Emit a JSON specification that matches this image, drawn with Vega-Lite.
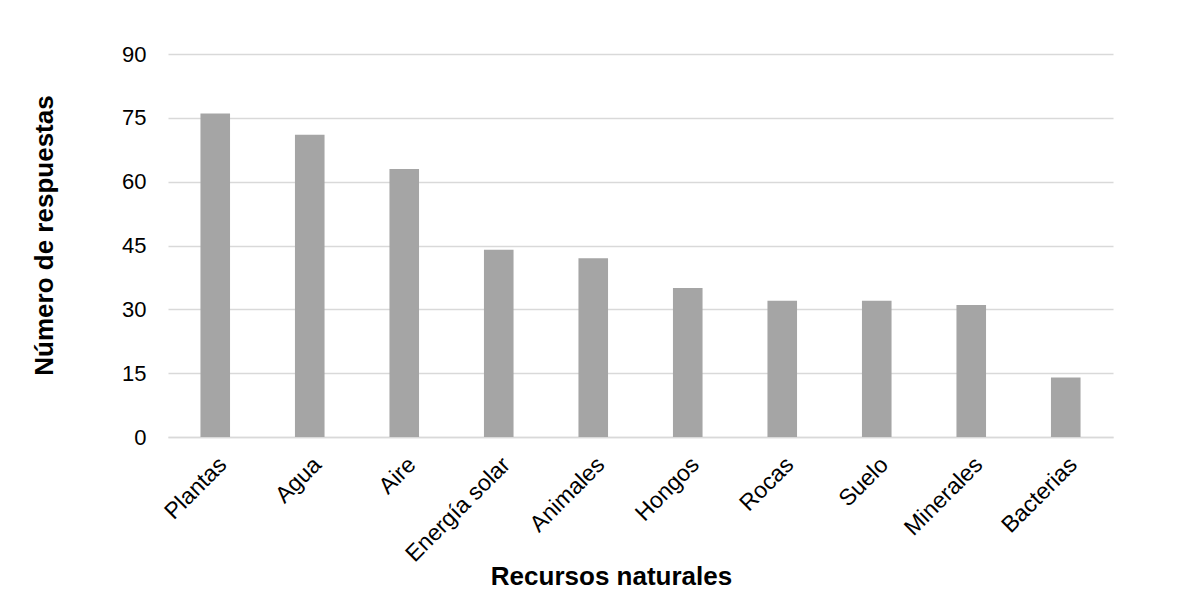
{
  "$schema": "https://vega.github.io/schema/vega-lite/v6.json",
  "autosize": {"type": "none"},
  "width": 945,
  "height": 383,
  "padding": {"left": 168, "top": 54, "right": 69, "bottom": 169},
  "background": "white",
  "data": {
    "values": [
      {"recurso": "Plantas", "respuestas": 76},
      {"recurso": "Agua", "respuestas": 71},
      {"recurso": "Aire", "respuestas": 63},
      {"recurso": "Energía solar", "respuestas": 44},
      {"recurso": "Animales", "respuestas": 42},
      {"recurso": "Hongos", "respuestas": 35},
      {"recurso": "Rocas", "respuestas": 32},
      {"recurso": "Suelo", "respuestas": 32},
      {"recurso": "Minerales", "respuestas": 31},
      {"recurso": "Bacterias", "respuestas": 14}
    ]
  },
  "mark": {"type": "bar", "color": "#a5a5a5"},
  "encoding": {
    "x": {
      "field": "recurso",
      "type": "nominal",
      "sort": null,
      "scale": {"paddingInner": 0.687, "paddingOuter": 0.3435},
      "axis": {
        "title": "Recursos naturales",
        "titleFont": "Liberation Sans",
        "titleFontSize": 26,
        "titleFontWeight": "bold",
        "titleColor": "black",
        "titleX": 443,
        "titleY": 147,
        "titleAlign": "center",
        "titleBaseline": "alphabetic",
        "labelAngle": -45,
        "labelFont": "Liberation Sans",
        "labelFontSize": 23,
        "labelColor": "black",
        "labelPadding": 16,
        "ticks": false,
        "domainColor": "#d9d9d9",
        "domainWidth": 1.5
      }
    },
    "y": {
      "field": "respuestas",
      "type": "quantitative",
      "scale": {"domain": [0, 90]},
      "axis": {
        "title": "Número de respuestas",
        "titleFont": "Liberation Sans",
        "titleFontSize": 26,
        "titleFontWeight": "bold",
        "titleColor": "black",
        "titleAngle": -90,
        "titleX": -116,
        "titleY": 181,
        "titleAlign": "center",
        "titleBaseline": "alphabetic",
        "values": [0, 15, 30, 45, 60, 75, 90],
        "labelFont": "Liberation Sans",
        "labelFontSize": 22,
        "labelColor": "black",
        "labelPadding": 22,
        "ticks": false,
        "domain": false,
        "gridColor": "#d9d9d9",
        "gridWidth": 1.5
      }
    }
  },
  "config": {"view": {"stroke": null}}
}
